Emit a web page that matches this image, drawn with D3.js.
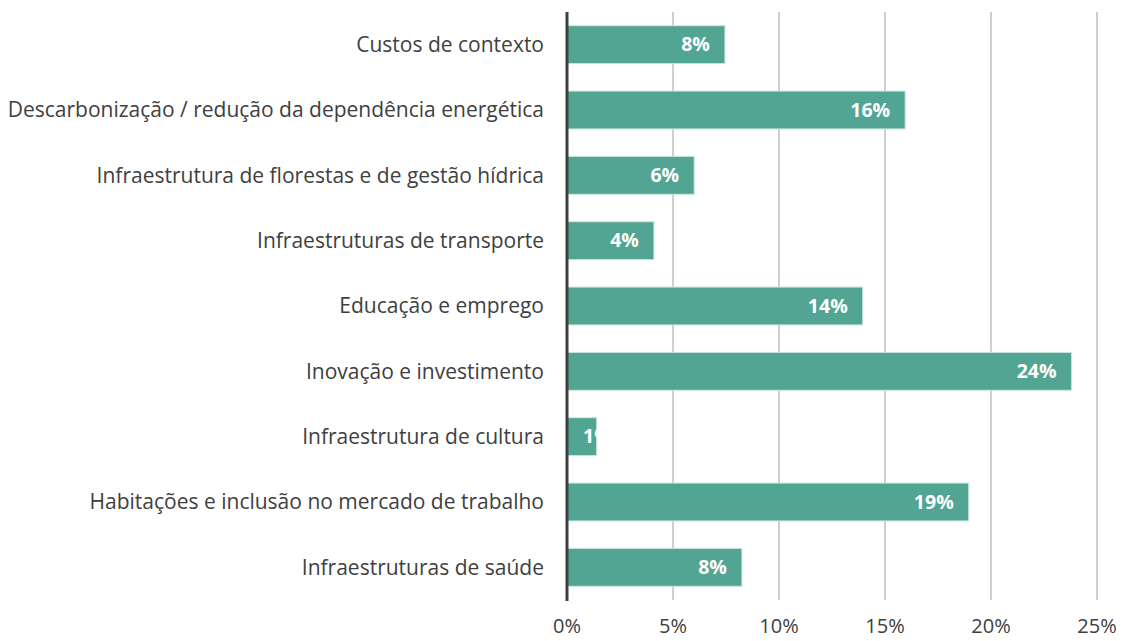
<!DOCTYPE html>
<html><head><meta charset="utf-8">
<script src="https://cdn.jsdelivr.net/npm/d3@7"></script>
<style>body{margin:0;background:#fff}svg{display:block}</style>
</head><body>
<svg id="chart" width="1123" height="641"></svg>
<script>
const categories = ["Custos de contexto","Descarbonização / redução da dependência energética","Infraestrutura de florestas e de gestão hídrica","Infraestruturas de transporte","Educação e emprego","Inovação e investimento","Infraestrutura de cultura","Habitações e inclusão no mercado de trabalho","Infraestruturas de saúde"];
const values = [7.45, 15.95, 6.0, 4.1, 13.95, 23.8, 1.4, 18.95, 8.25];
const labels = ["8%","16%","6%","4%","14%","24%","1%","19%","8%"];
const ticks = [0,5,10,15,20,25];
const tickLabels = ["0%","5%","10%","15%","20%","25%"];

const svg = d3.select("#chart");
const font = "'Open Sans', sans-serif";
const x = d3.scaleLinear().domain([0,25]).range([567,1097]);
const y = d3.scaleBand().domain(categories).range([12,600]).paddingInner(0.42).paddingOuter(0.21);

// gridlines
svg.append("g").selectAll("line").data(ticks.slice(1)).join("line")
  .attr("x1",d=>x(d)).attr("x2",d=>x(d)).attr("y1",12).attr("y2",600)
  .attr("stroke","#bfbfbf").attr("stroke-width",1.5);

const defs = svg.append("defs");
defs.selectAll("clipPath").data(categories).join("clipPath")
  .attr("id",(d,i)=>"c"+i).append("rect")
  .attr("x",x(0)).attr("y",d=>y(d)).attr("width",(d,i)=>x(values[i])-x(0)).attr("height",y.bandwidth());

svg.append("g").selectAll("rect").data(categories).join("rect")
  .attr("x",x(0)).attr("y",d=>y(d)).attr("width",(d,i)=>x(values[i])-x(0)).attr("height",y.bandwidth())
  .attr("fill","#53a593").attr("stroke","#cde6e0").attr("stroke-width",1);

svg.append("g").selectAll("text").data(categories).join("text")
  .attr("clip-path",(d,i)=>"url(#c"+i+")")
  .attr("y",d=>y(d)+y.bandwidth()/2)
  .attr("dy","0.35em").attr("text-anchor","start")
  .attr("font-family",font).attr("font-weight","bold").attr("font-size",19.5).attr("fill","#fff")
  .text((d,i)=>labels[i])
  .attr("x",function(d,i){const w=this.getComputedTextLength();return Math.max(x(values[i])-15-w, x(0)+16);});

// category labels
svg.append("g").selectAll("text").data(categories).join("text")
  .attr("x",544).attr("y",d=>y(d)+y.bandwidth()/2).attr("dy","0.35em").attr("text-anchor","end")
  .attr("font-family",font).attr("font-size",21).attr("fill","#404040").text(d=>d);

// axis line
svg.append("line").attr("x1",x(0)).attr("x2",x(0)).attr("y1",12).attr("y2",601)
  .attr("stroke","#404040").attr("stroke-width",3);

// x tick labels
svg.append("g").selectAll("text").data(ticks).join("text")
  .attr("x",d=>x(d)).attr("y",633).attr("text-anchor","middle")
  .attr("font-family",font).attr("font-size",20).attr("fill","#404040")
  .text((d,i)=>tickLabels[i]);
</script>
</body></html>
